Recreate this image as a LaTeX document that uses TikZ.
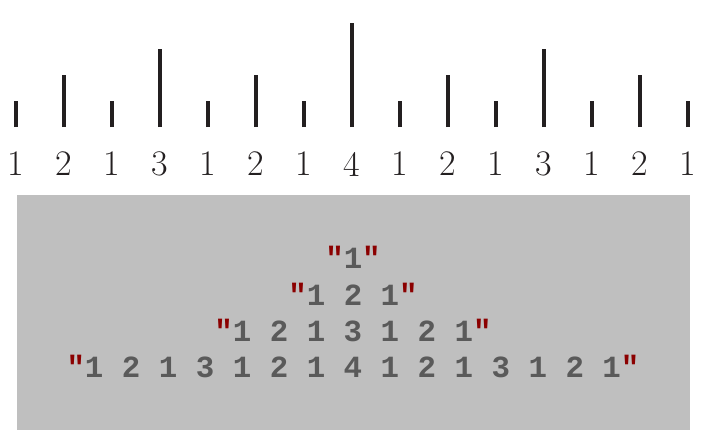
\documentclass[tikz,border=0pt]{standalone}
\usepackage{fontspec}
\newfontfamily\codefont{Liberation Mono}
\usetikzlibrary{positioning}
\definecolor{tickcol}{HTML}{231F20}
\definecolor{boxgray}{HTML}{BFBFBF}
\definecolor{digitgray}{HTML}{5A5A5A}
\definecolor{quotered}{HTML}{8B0000}
\newcommand{\qmark}{\textcolor{quotered}{"}}
\tikzset{
	tick/.style={draw=tickcol, line width=2pt},
	ruler label/.style={inner sep=0pt, text=tickcol, font=\fontsize{18}{20}\selectfont},
	code line/.style={inner sep=0pt, text=digitgray, font=\codefont\bfseries\fontsize{15.4}{17}\selectfont}
}
\begin{document}
\begin{tikzpicture}[x=0.5pt,y=-0.5pt]
		\useasboundingbox (0,0) rectangle (708,445);
		
		%Ruler ticks and their labels
		\foreach \h [count=\i from 0] in {1,2,1,3,1,2,1,4,1,2,1,3,1,2,1}{
			\draw[tick] (16+48*\i,127) -- (16+48*\i,127-26*\h);
			\node (lab\i) at (16+48*\i,164) [ruler label]{\h};
		}
		
		%Grey box with the strings
		\node (box) at (353.5,312.5) [rectangle, fill=boxgray, minimum width=336.5pt, 
		minimum height=117.5pt, inner sep=0pt]{};
		\node (line1) at (353,257) [code line]{\qmark1\qmark};
		\node (line2) at (353,294) [code line]{\qmark1 2 1\qmark};
		\node (line3) at (353,331) [code line]{\qmark1 2 1 3 1 2 1\qmark};
		\node (line4) at (353,367) [code line]{\qmark1 2 1 3 1 2 1 4 1 2 1 3 1 2 1\qmark};
		
\end{tikzpicture}
\end{document}
